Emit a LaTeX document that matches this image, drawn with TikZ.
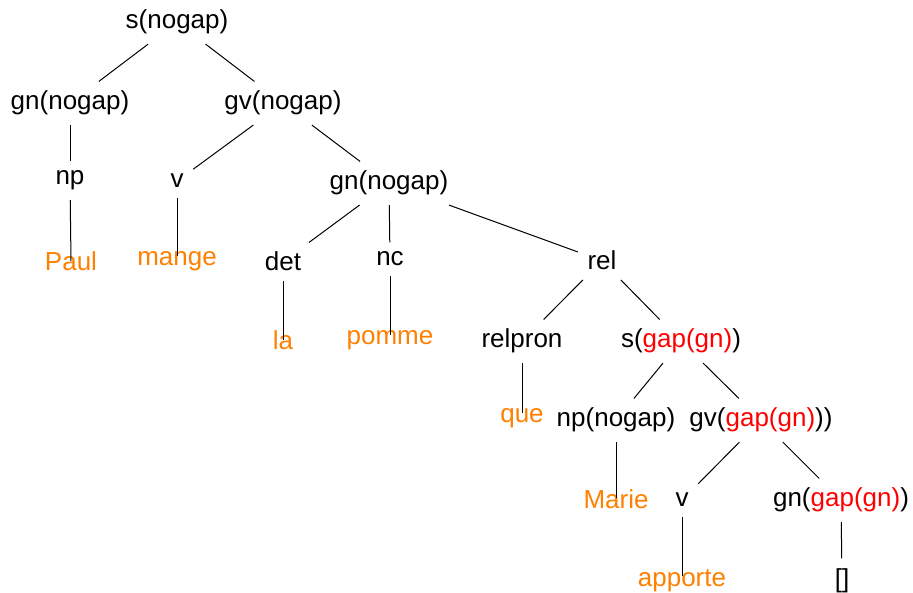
\documentclass[tikz,border=0pt]{standalone}
\usepackage{fontspec}
\setmainfont{Liberation Sans}
\definecolor{leaforange}{RGB}{255,128,0}
\definecolor{gapred}{RGB}{255,0,0}
\begin{document}
\begin{tikzpicture}[x=1pt,y=1pt,
  tn/.style={font=\fontsize{26}{30}\selectfont, inner sep=9.5pt, anchor=base},
  lf/.style={tn, text=leaforange},
  edge/.style={line width=1pt, draw=black}]
\useasboundingbox (0,0) rectangle (913,592);
% internal nodes
\node[tn] (s0)  at (177,563) {s(nogap)};
\node[tn] (gn1) at (70,482)  {gn(nogap)};
\node[tn] (gv1) at (283,482) {gv(nogap)};
\node[tn] (np1) at (70,407)  {np};
\node[tn] (v1)  at (177,404) {v};
\node[tn] (gn2) at (389,402) {gn(nogap)};
\node[tn] (det) at (283,321) {det};
\node[tn] (nc)  at (390,326) {nc};
\node[tn] (rel) at (602,322) {rel};
\node[tn] (relpron) at (522,244) {relpron};
\node[tn] (sg)  at (681,244) {s(\textcolor{gapred}{gap(gn)})};
\node[tn] (np2) at (616,165) {np(nogap)};
\node[tn] (gvg) at (761,165) {gv(\textcolor{gapred}{gap(gn)}))};
\node[tn] (v2)  at (682,85)  {v};
\node[tn] (gng) at (841,85)  {gn(\textcolor{gapred}{gap(gn)})};
\node[tn] (empty) at (842,5) {[]};
% leaves
\node[lf] (paul)  at (71,321)  {Paul};
\node[lf] (mange) at (177,326) {mange};
\node[lf] (la)    at (283,242) {la};
\node[lf] (pomme) at (390,247) {pomme};
\node[lf] (que)   at (522,169) {que};
\node[lf] (marie) at (616,84)  {Marie};
\node[lf] (apporte) at (682,6) {apporte};
% edges
\draw[edge] (s0) -- (gn1);
\draw[edge] (s0) -- (gv1);
\draw[edge] (gn1) -- (np1);
\draw[edge] (np1) -- ([yshift=10pt]paul.base);
\draw[edge] (gv1) -- (v1);
\draw[edge] (v1) -- ([yshift=10pt]mange.base);
\draw[edge] (gv1) -- (gn2);
\draw[edge] (gn2) -- (det);
\draw[edge] (det) -- ([yshift=10pt]la.base);
\draw[edge] (gn2) -- (nc);
\draw[edge] (nc) -- ([yshift=10pt]pomme.base);
\draw[edge] (gn2) -- (rel);
\draw[edge] (rel) -- (relpron);
\draw[edge] (relpron) -- ([yshift=10pt]que.base);
\draw[edge] (rel) -- (sg);
\draw[edge] (sg) -- (np2);
\draw[edge] (np2) -- ([yshift=10pt]marie.base);
\draw[edge] (sg) -- (gvg);
\draw[edge] (gvg) -- (v2);
\draw[edge] (v2) -- ([yshift=10pt]apporte.base);
\draw[edge] (gvg) -- (gng);
\draw[edge] (gng) -- (empty);
\end{tikzpicture}
\end{document}
